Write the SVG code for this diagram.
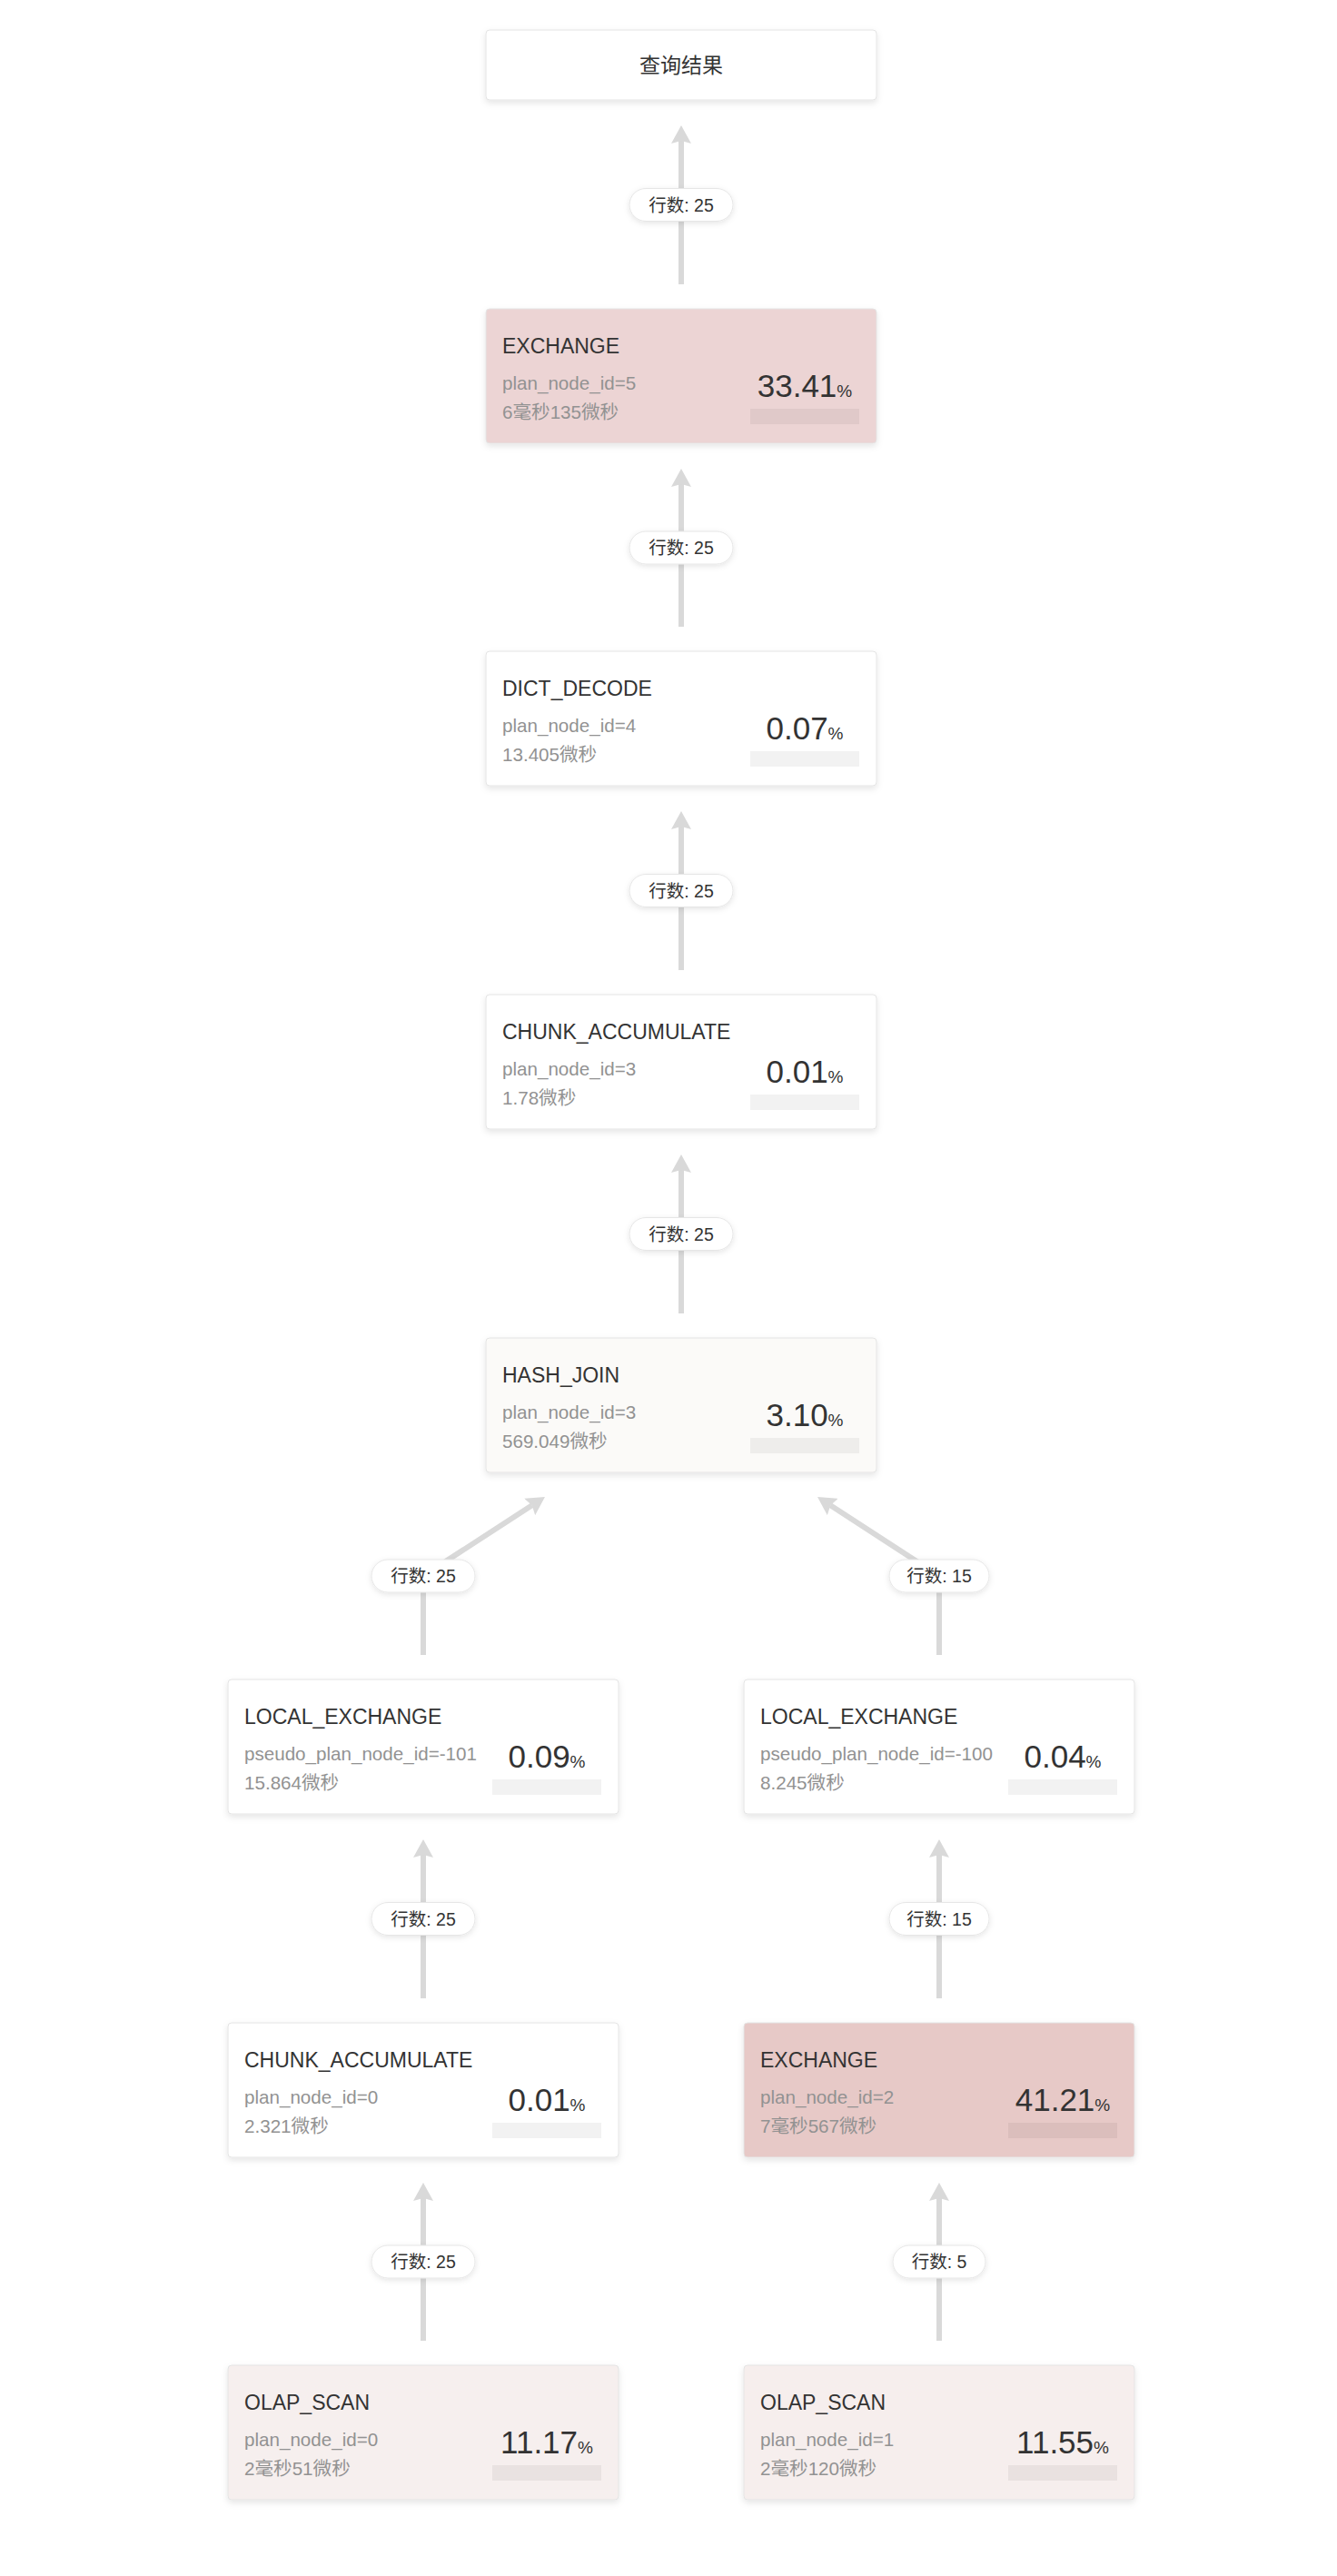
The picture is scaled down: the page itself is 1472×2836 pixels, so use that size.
<svg xmlns="http://www.w3.org/2000/svg" width="1472" height="2836" viewBox="0 0 1472 2836">
<defs>
<filter id="sh" x="-10%" y="-20%" width="120%" height="150%">
<feDropShadow dx="0" dy="3" stdDeviation="3.5" flood-color="#000" flood-opacity="0.10"/>
</filter>
<filter id="psh" x="-20%" y="-40%" width="140%" height="190%">
<feDropShadow dx="0" dy="2" stdDeviation="3" flood-color="#000" flood-opacity="0.10"/>
</filter>
<marker id="arr" markerUnits="userSpaceOnUse" markerWidth="20" markerHeight="22" viewBox="0 0 20 22" refX="3" refY="11" orient="auto">
<path d="M0,0 L20,11 L0,22 L3,11 z" fill="#d9d9d9"/>
</marker>
<style>
text{font-family:"Liberation Sans","Noto Sans CJK SC",sans-serif;}
.node{stroke:#e4e4e4;stroke-width:1;filter:url(#sh);}
.title{font-size:23px;fill:#333;}
.sub{font-size:20.6px;fill:#929292;}
.pct{font-size:35px;fill:#333;text-anchor:middle;}
.pc{font-size:19px;}
.bar{fill:#000;fill-opacity:0.05;}
.edge{fill:none;stroke:#d9d9d9;stroke-width:6;marker-end:url(#arr);}
.pill{fill:#fff;stroke:#e6e6e6;stroke-width:1;filter:url(#psh);}
.lbl{font-size:19.5px;fill:#333;text-anchor:middle;}
.res{font-size:23px;fill:#333;text-anchor:middle;}
</style>
</defs>
<rect width="1472" height="2836" fill="#fff"/>

<g id="connectors">
<path class="edge" d="M750,313 L750,155"/>
<path class="edge" d="M750,690 L750,533"/>
<path class="edge" d="M750,1068 L750,910"/>
<path class="edge" d="M750,1446 L750,1288"/>
<path class="edge" d="M466,1822 L466,1735 L585.7,1657.3"/>
<path class="edge" d="M1034,1822 L1034,1735 L914.3,1657.3"/>
<path class="edge" d="M466,2200 L466,2042"/>
<path class="edge" d="M1034,2200 L1034,2042"/>
<path class="edge" d="M466,2577 L466,2420"/>
<path class="edge" d="M1034,2577 L1034,2420"/>

<rect class="pill" x="693" y="207.5" width="114" height="36" rx="18"/>
<text class="lbl" x="750" y="232.5">行数: 25</text>
<rect class="pill" x="693" y="585" width="114" height="36" rx="18"/>
<text class="lbl" x="750" y="610">行数: 25</text>
<rect class="pill" x="693" y="962.5" width="114" height="36" rx="18"/>
<text class="lbl" x="750" y="987.5">行数: 25</text>
<rect class="pill" x="693" y="1340.5" width="114" height="36" rx="18"/>
<text class="lbl" x="750" y="1365.5">行数: 25</text>
<rect class="pill" x="409" y="1717" width="114" height="36" rx="18"/>
<text class="lbl" x="466" y="1742">行数: 25</text>
<rect class="pill" x="979" y="1717" width="110" height="36" rx="18"/>
<text class="lbl" x="1034" y="1742">行数: 15</text>
<rect class="pill" x="409" y="2094.5" width="114" height="36" rx="18"/>
<text class="lbl" x="466" y="2119.5">行数: 25</text>
<rect class="pill" x="979" y="2094.5" width="110" height="36" rx="18"/>
<text class="lbl" x="1034" y="2119.5">行数: 15</text>
<rect class="pill" x="409" y="2472" width="114" height="36" rx="18"/>
<text class="lbl" x="466" y="2497">行数: 25</text>
<rect class="pill" x="983" y="2472" width="102" height="36" rx="18"/>
<text class="lbl" x="1034" y="2497">行数: 5</text>
</g>

<g id="node-result">
<rect class="node" x="535" y="33" width="430" height="77" rx="4" fill="#fff"/>
<text class="res" x="750" y="80">查询结果</text>
</g>

<g id="node-exchange-5">
<rect class="node" x="535" y="340" width="430" height="148" rx="4" fill="#ecd4d4"/>
<text class="title" x="553" y="389">EXCHANGE</text>
<text class="sub" x="553" y="429">plan_node_id=5</text>
<text class="sub" x="553" y="461">6毫秒135微秒</text>
<text class="pct" x="886" y="437">33.41<tspan class="pc">%</tspan></text>
<rect class="bar" x="826" y="450" width="120" height="17"/>
</g>

<g id="node-dict-decode-4">
<rect class="node" x="535" y="717" width="430" height="148" rx="4" fill="#fff"/>
<text class="title" x="553" y="766">DICT_DECODE</text>
<text class="sub" x="553" y="806">plan_node_id=4</text>
<text class="sub" x="553" y="838">13.405微秒</text>
<text class="pct" x="886" y="814">0.07<tspan class="pc">%</tspan></text>
<rect class="bar" x="826" y="827" width="120" height="17"/>
</g>

<g id="node-chunk-accumulate-3">
<rect class="node" x="535" y="1095" width="430" height="148" rx="4" fill="#fff"/>
<text class="title" x="553" y="1144">CHUNK_ACCUMULATE</text>
<text class="sub" x="553" y="1184">plan_node_id=3</text>
<text class="sub" x="553" y="1216">1.78微秒</text>
<text class="pct" x="886" y="1192">0.01<tspan class="pc">%</tspan></text>
<rect class="bar" x="826" y="1205" width="120" height="17"/>
</g>

<g id="node-hash-join-3">
<rect class="node" x="535" y="1473" width="430" height="148" rx="4" fill="#fbfaf8"/>
<text class="title" x="553" y="1522">HASH_JOIN</text>
<text class="sub" x="553" y="1562">plan_node_id=3</text>
<text class="sub" x="553" y="1594">569.049微秒</text>
<text class="pct" x="886" y="1570">3.10<tspan class="pc">%</tspan></text>
<rect class="bar" x="826" y="1583" width="120" height="17"/>
</g>

<g id="node-local-exchange-101">
<rect class="node" x="251" y="1849" width="430" height="148" rx="4" fill="#fff"/>
<text class="title" x="269" y="1898">LOCAL_EXCHANGE</text>
<text class="sub" x="269" y="1938">pseudo_plan_node_id=-101</text>
<text class="sub" x="269" y="1970">15.864微秒</text>
<text class="pct" x="602" y="1946">0.09<tspan class="pc">%</tspan></text>
<rect class="bar" x="542" y="1959" width="120" height="17"/>
</g>

<g id="node-local-exchange-100">
<rect class="node" x="819" y="1849" width="430" height="148" rx="4" fill="#fff"/>
<text class="title" x="837" y="1898">LOCAL_EXCHANGE</text>
<text class="sub" x="837" y="1938">pseudo_plan_node_id=-100</text>
<text class="sub" x="837" y="1970">8.245微秒</text>
<text class="pct" x="1170" y="1946">0.04<tspan class="pc">%</tspan></text>
<rect class="bar" x="1110" y="1959" width="120" height="17"/>
</g>

<g id="node-chunk-accumulate-0">
<rect class="node" x="251" y="2227" width="430" height="148" rx="4" fill="#fff"/>
<text class="title" x="269" y="2276">CHUNK_ACCUMULATE</text>
<text class="sub" x="269" y="2316">plan_node_id=0</text>
<text class="sub" x="269" y="2348">2.321微秒</text>
<text class="pct" x="602" y="2324">0.01<tspan class="pc">%</tspan></text>
<rect class="bar" x="542" y="2337" width="120" height="17"/>
</g>

<g id="node-exchange-2">
<rect class="node" x="819" y="2227" width="430" height="148" rx="4" fill="#e7c9c7"/>
<text class="title" x="837" y="2276">EXCHANGE</text>
<text class="sub" x="837" y="2316">plan_node_id=2</text>
<text class="sub" x="837" y="2348">7毫秒567微秒</text>
<text class="pct" x="1170" y="2324">41.21<tspan class="pc">%</tspan></text>
<rect class="bar" x="1110" y="2337" width="120" height="17"/>
</g>

<g id="node-olap-scan-0">
<rect class="node" x="251" y="2604" width="430" height="148" rx="4" fill="#f6efee"/>
<text class="title" x="269" y="2653">OLAP_SCAN</text>
<text class="sub" x="269" y="2693">plan_node_id=0</text>
<text class="sub" x="269" y="2725">2毫秒51微秒</text>
<text class="pct" x="602" y="2701">11.17<tspan class="pc">%</tspan></text>
<rect class="bar" x="542" y="2714" width="120" height="17"/>
</g>

<g id="node-olap-scan-1">
<rect class="node" x="819" y="2604" width="430" height="148" rx="4" fill="#f6eeed"/>
<text class="title" x="837" y="2653">OLAP_SCAN</text>
<text class="sub" x="837" y="2693">plan_node_id=1</text>
<text class="sub" x="837" y="2725">2毫秒120微秒</text>
<text class="pct" x="1170" y="2701">11.55<tspan class="pc">%</tspan></text>
<rect class="bar" x="1110" y="2714" width="120" height="17"/>
</g>
</svg>
